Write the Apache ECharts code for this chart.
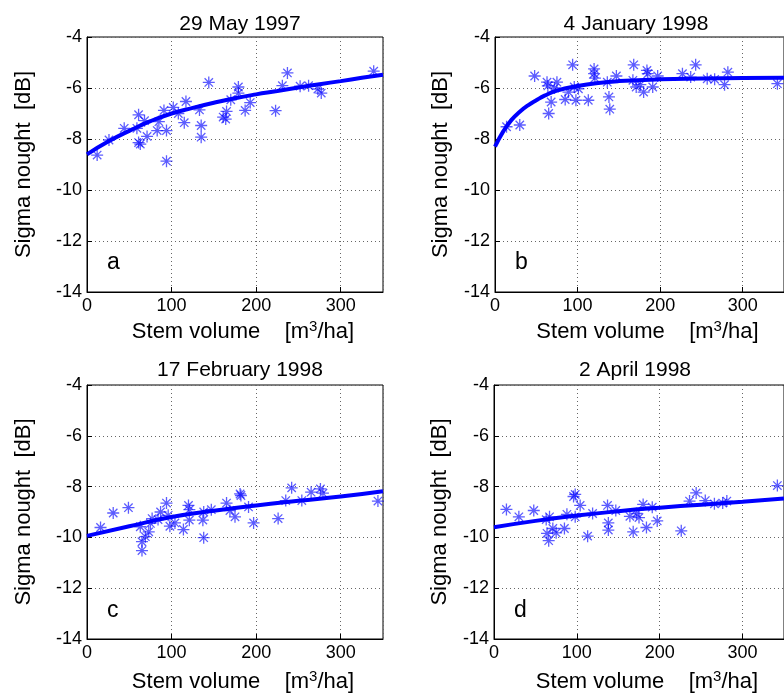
<!DOCTYPE html>
<html>
<head>
<meta charset="utf-8">
<script src="https://cdn.jsdelivr.net/npm/echarts@6/dist/echarts.min.js"></script>
<style>
  html, body { margin: 0; padding: 0; background: #fff; }
  #main { width: 784px; height: 697px; }
</style>
</head>
<body>
<div id="main"></div>
<script>
// panel titles and letters
var titles = ['29 May 1997', '4 January 1998', '17 February 1998', '2 April 1998'];
var letters = ['a', 'b', 'c', 'd'];
var xTicks = [0, 100, 200, 300];
var yTicks = [-14, -12, -10, -8, -6, -4];

// a: 29 May 1997
var volA = [12, 26, 44, 59, 61, 68, 61, 63, 71, 83, 85, 91, 102, 94, 94, 117, 115, 108, 133, 135, 135, 144, 161, 164, 165, 170, 179, 179, 187, 193, 223, 231, 237, 252, 262, 273, 277, 339];
var sigA = [-8.63, -8.04, -7.58, -7.58, -7.05, -7.28, -8.14, -8.2, -7.9, -7.67, -7.32, -6.88, -6.76, -7.67, -8.87, -6.53, -7.36, -7.0, -6.86, -7.47, -7.93, -5.78, -7.14, -7.22, -6.92, -6.46, -5.96, -6.2, -6.88, -6.57, -6.89, -5.91, -5.41, -5.93, -5.91, -6.04, -6.2, -5.34];
var fitXA = [0, 25, 50, 75, 100, 125, 150, 175, 200, 225, 250, 275, 300, 325, 350];
var fitYA = [-8.6, -8.1, -7.68, -7.3, -7.0, -6.78, -6.58, -6.4, -6.25, -6.12, -5.98, -5.85, -5.73, -5.6, -5.48];

// b: 4 January 1998
var volB = [14, 30, 48, 63, 64, 65, 68, 75, 72, 85, 89, 94, 96, 98, 101, 113, 120, 120, 121, 136, 138, 139, 147, 168, 167, 171, 176, 180, 184, 185, 191, 197, 227, 237, 243, 257, 266, 278, 282, 342];
var sigB = [-7.52, -7.45, -5.53, -5.77, -5.92, -7.0, -6.55, -5.77, -6.0, -6.45, -6.16, -5.09, -5.96, -6.48, -6.03, -6.48, -5.25, -5.44, -5.61, -5.77, -6.35, -6.83, -5.53, -5.09, -5.7, -5.96, -5.87, -6.16, -5.31, -5.44, -5.96, -5.53, -5.44, -5.57, -5.09, -5.64, -5.66, -5.87, -5.38, -5.83];
var fitXB = [0, 10, 20, 30, 40, 50, 60, 75, 100, 125, 150, 200, 250, 300, 350];
var fitYB = [-8.3, -7.7, -7.25, -6.93, -6.68, -6.48, -6.3, -6.1, -5.92, -5.8, -5.73, -5.66, -5.63, -5.61, -5.6];

// c: 17 February 1998
var volC = [16, 31, 49, 63, 65, 65, 69, 73, 75, 77, 84, 87, 94, 96, 98, 104, 114, 120, 121, 121, 137, 138, 138, 147, 165, 169, 175, 181, 182, 191, 197, 226, 235, 242, 254, 265, 276, 279, 344];
var sigC = [-9.61, -9.04, -8.83, -9.58, -10.17, -10.52, -9.97, -9.78, -9.45, -9.26, -9.3, -9.0, -8.65, -9.13, -9.56, -9.43, -9.69, -8.74, -9.32, -8.91, -9.32, -9.0, -10.01, -8.91, -8.65, -8.94, -9.19, -8.29, -8.35, -8.8, -9.43, -9.26, -8.55, -8.05, -8.55, -8.22, -8.09, -8.26, -8.57];
var fitXC = [0, 50, 100, 150, 200, 250, 300, 350];
var fitYC = [-9.94, -9.56, -9.2, -8.95, -8.74, -8.56, -8.39, -8.18];

// d: 2 April 1998
var volD = [15, 30, 48, 63, 64, 66, 67, 71, 75, 85, 88, 96, 98, 98, 104, 113, 119, 137, 138, 138, 147, 164, 168, 172, 175, 180, 184, 191, 197, 226, 236, 244, 255, 266, 276, 281, 342];
var sigD = [-8.9, -9.19, -8.94, -9.3, -9.84, -10.13, -9.19, -9.65, -9.82, -9.65, -9.09, -8.39, -8.31, -9.19, -8.74, -9.95, -9.06, -8.74, -9.43, -9.71, -8.94, -9.17, -9.78, -9.06, -9.22, -8.7, -9.61, -8.81, -9.35, -9.74, -8.57, -8.25, -8.55, -8.68, -8.65, -8.57, -7.96];
var fitXD = [0, 50, 100, 150, 200, 250, 300, 350];
var fitYD = [-9.6, -9.35, -9.14, -8.97, -8.83, -8.71, -8.6, -8.47];

var panels = [
    {vol: volA, sig: sigA, fx: fitXA, fy: fitYA},
    {vol: volB, sig: sigB, fx: fitXB, fy: fitYB},
    {vol: volC, sig: sigC, fx: fitXC, fy: fitYC},
    {vol: volD, sig: sigD, fx: fitXD, fy: fitYD}
];

// plot boxes (left, top, width, height)
var boxes = [
    [87, 37, 296, 255],
    [495, 37, 294, 255],
    [87, 385, 296, 254],
    [494, 385, 294, 254]
];
var yNameGap = [52, 43, 52, 43];
var xNameGap = [27, 27, 30, 30];
var titleOff = [28, 28, 30, 30];
var titleShift = [0, -11, 0, -11];

var FONT = 'Liberation Sans, Arial, sans-serif';
var star = 'path://M0,-10L0,10M-10,0L10,0M-7,-7L7,7M-7,7L7,-7';

function zip(a, b) {
    var out = [];
    for (var i = 0; i < a.length; i++) out.push([a[i], b[i]]);
    return out;
}

var grids = [], xAxes = [], yAxes = [], series = [], titleList = [], graphics = [];
for (var i = 0; i < 4; i++) {
    var b = boxes[i];
    grids.push({
        left: b[0], top: b[1], width: b[2], height: b[3],
        show: true, borderColor: '#000', borderWidth: 1, backgroundColor: '#fff'
    });
    xAxes.push({
        gridIndex: i, type: 'value', min: 0, max: 350, interval: 100,
        name: 'Stem volume    [m{sup|3}/ha]', nameLocation: 'middle', nameGap: xNameGap[i],
        nameTextStyle: {
            fontFamily: FONT, fontSize: 22, color: '#000', padding: [0, 0, 0, 16],
            rich: {sup: {fontFamily: FONT, fontSize: 15, color: '#000', verticalAlign: 'bottom', padding: [0, 0, 11, 0]}}
        },
        axisLine: {lineStyle: {color: '#000', width: 1}},
        axisTick: {inside: true, length: 5, lineStyle: {color: '#000'}},
        axisLabel: {
            fontFamily: FONT, fontSize: 18, color: '#000', margin: 5, showMaxLabel: false,
            formatter: function (v) { return xTicks.indexOf(v) >= 0 ? String(v) : ''; }
        },
        splitLine: {show: true, lineStyle: {color: '#666', type: [1, 3], width: 1}}
    });
    yAxes.push({
        gridIndex: i, type: 'value', min: -14, max: -4, interval: 2,
        name: 'Sigma nought  [dB]', nameLocation: 'middle', nameGap: yNameGap[i],
        nameTextStyle: {fontFamily: FONT, fontSize: 22, color: '#000'},
        axisLine: {lineStyle: {color: '#000', width: 1}},
        axisTick: {inside: true, length: 5, lineStyle: {color: '#000'}},
        axisLabel: {
            fontFamily: FONT, fontSize: 18, color: '#000', margin: 5,
            formatter: function (v) { return yTicks.indexOf(v) >= 0 ? String(v) : ''; }
        },
        splitLine: {show: true, lineStyle: {color: '#666', type: [1, 3], width: 1}}
    });
    series.push({
        type: 'scatter', xAxisIndex: i, yAxisIndex: i,
        data: zip(panels[i].vol, panels[i].sig),
        symbol: star, symbolSize: 12,
        itemStyle: {color: 'none', borderColor: 'rgba(0,0,255,0.8)', borderWidth: 1.3},
        z: 3
    });
    series.push({
        type: 'line', xAxisIndex: i, yAxisIndex: i,
        data: zip(panels[i].fx, panels[i].fy),
        smooth: true, showSymbol: false,
        lineStyle: {color: '#0000ff', width: 4},
        z: 4
    });
    titleList.push({
        text: titles[i], left: b[0] + b[2] / 2 + titleShift[i], top: b[1] - titleOff[i], textAlign: 'center',
        textStyle: {fontFamily: FONT, fontSize: 21, fontWeight: 'normal', color: '#000'}
    });
    graphics.push({
        type: 'text', left: b[0] + 20, top: b[1] + 214,
        style: {text: letters[i], font: '23px ' + FONT, fill: '#000'}, z: 10
    });
}

var myChart = echarts.init(document.getElementById('main'), null, {renderer: 'canvas'});
myChart.setOption({
    animation: false,
    backgroundColor: '#fff',
    title: titleList,
    grid: grids,
    xAxis: xAxes,
    yAxis: yAxes,
    series: series,
    graphic: graphics
});
</script>
</body>
</html>
